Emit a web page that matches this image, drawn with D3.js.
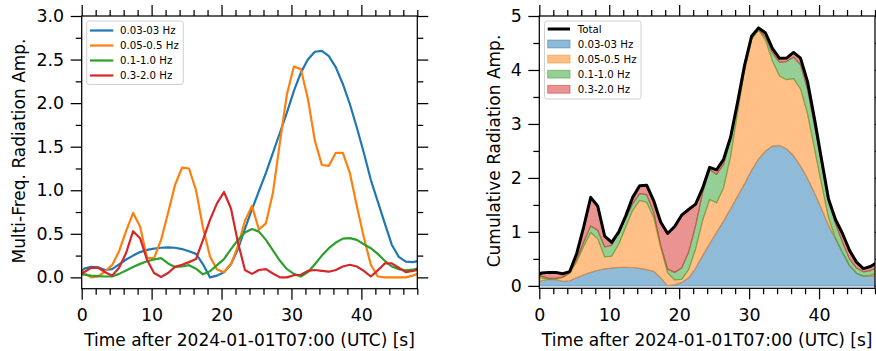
<!DOCTYPE html>
<html><head><meta charset="utf-8">
<script src="https://cdn.jsdelivr.net/npm/d3@7"></script>
<style>
html,body{margin:0;padding:0;background:#fff;}
svg{display:block;}
text{font-family:"DejaVu Sans",sans-serif;fill:#000;}
</style></head>
<body><svg id="chart" width="876" height="351"></svg>
<script>
// Frequency bands and their colours
const bandLabels = ["0.03-03 Hz", "0.05-0.5 Hz", "0.1-1.0 Hz", "0.3-2.0 Hz"];
const bandColors = ["#1f77b4", "#ff7f0e", "#2ca02c", "#d62728"];

// Sample times [s] (one sample per second, offset by 0.35 s)
const sampleTimes = d3.range(50).map(i => i - 0.65);

// Radiation amplitude per band at each sample time
const amp003 = [0.02, 0.10, 0.12, 0.115, 0.085, 0.095, 0.15, 0.205, 0.25, 0.29,
  0.315, 0.33, 0.34, 0.345, 0.34, 0.325, 0.30, 0.27, 0.15, 0.0,
  0.02, 0.06, 0.15, 0.325, 0.56, 0.78, 0.99, 1.20, 1.43, 1.66,
  1.89, 2.14, 2.35, 2.50, 2.59, 2.60, 2.54, 2.41, 2.22, 1.99,
  1.72, 1.43, 1.12, 0.87, 0.62, 0.375, 0.235, 0.18, 0.175, 0.19];
const amp005 = [0.10, 0.05, 0.0, 0.01, 0.07, 0.14, 0.30, 0.53, 0.74, 0.585,
  0.22, 0.22, 0.43, 0.74, 1.06, 1.26, 1.25, 1.0, 0.57, 0.24,
  0.09, 0.06, 0.15, 0.36, 0.65, 0.82, 0.55, 0.62, 0.97, 1.55,
  2.10, 2.42, 2.39, 2.05, 1.57, 1.29, 1.28, 1.43, 1.43, 1.20,
  0.82, 0.46, 0.145, 0.01, 0.0, 0.0, 0.0, 0.0, 0.02, 0.05];
const amp01 = [0.045, 0.03, 0.02, 0.015, 0.01, 0.01, 0.04, 0.08, 0.12, 0.155,
  0.185, 0.205, 0.22, 0.16, 0.12, 0.125, 0.14, 0.10, 0.035, 0.07,
  0.14, 0.21, 0.325, 0.43, 0.515, 0.555, 0.525, 0.43, 0.31, 0.19,
  0.095, 0.04, 0.01, 0.06, 0.15, 0.25, 0.335, 0.40, 0.445, 0.45,
  0.43, 0.38, 0.335, 0.27, 0.19, 0.125, 0.095, 0.08, 0.088, 0.107];
const amp03 = [0.0, 0.06, 0.11, 0.11, 0.06, 0.02, 0.11, 0.28, 0.53, 0.45,
  0.20, 0.05, 0.005, 0.05, 0.12, 0.145, 0.175, 0.21, 0.43, 0.66,
  0.85, 0.98, 0.79, 0.40, 0.085, 0.04, 0.085, 0.095, 0.045, 0.0,
  0.0, 0.025, 0.03, 0.075, 0.085, 0.075, 0.065, 0.085, 0.125, 0.145,
  0.125, 0.075, 0.01, 0.08, 0.16, 0.16, 0.11, 0.06, 0.075, 0.09];

// Axis ticks
const xMajorTicks = [0, 10, 20, 30, 40];
const xMinorTicks = [2, 4, 6, 8, 12, 14, 16, 18, 22, 24, 26, 28, 32, 34, 36, 38, 42, 44, 46, 48];
const yMajorTicksLeft = [0, 0.5, 1.0, 1.5, 2.0, 2.5, 3.0];
const yMinorTicksLeft = [0.25, 0.75, 1.25, 1.75, 2.25, 2.75];
const yMajorTicksRight = [0, 1, 2, 3, 4, 5];
const yMinorTicksRight = [0.5, 1.5, 2.5, 3.5, 4.5];

const series = [amp003, amp005, amp01, amp03];
const rows = sampleTimes.map((t, i) => {
  const r = { t };
  series.forEach((s, j) => r["b" + j] = s[i]);
  return r;
});
const keys = ["b0", "b1", "b2", "b3"];

const svg = d3.select("#chart");
const FONT_TICK = 17.4, FONT_LABEL = 17, FONT_LEG = 10.2;
const MAJ = 11, MIN = 6;

function drawAxes(g, x, y, yMajor, yMinor, yFmt, box) {
  const add = (axis, tr) => {
    const a = g.append("g").attr("transform", tr).call(axis);
    a.select(".domain").remove();
    a.selectAll("line").attr("stroke", "#000").attr("stroke-width", 1.25);
    a.selectAll("text").attr("font-size", FONT_TICK).attr("font-family", "DejaVu Sans").attr("fill", "#000");
    return a;
  };
  const b = `translate(0,${box.bottom})`, t = `translate(0,${box.top})`;
  const l = `translate(${box.left},0)`, r = `translate(${box.right},0)`;
  add(d3.axisBottom(x).tickValues(xMajorTicks).tickSize(MAJ).tickPadding(9).tickFormat(d3.format("d")), b);
  add(d3.axisBottom(x).tickValues(xMinorTicks).tickSize(MIN).tickFormat(""), b);
  add(d3.axisTop(x).tickValues(xMajorTicks).tickSize(MAJ).tickFormat(""), t);
  add(d3.axisTop(x).tickValues(xMinorTicks).tickSize(MIN).tickFormat(""), t);
  add(d3.axisLeft(y).tickValues(yMajor).tickSize(MAJ).tickPadding(6.5).tickFormat(yFmt), l);
  add(d3.axisLeft(y).tickValues(yMinor).tickSize(MIN).tickFormat(""), l);
  add(d3.axisRight(y).tickValues(yMajor).tickSize(MAJ).tickFormat(""), r);
  add(d3.axisRight(y).tickValues(yMinor).tickSize(MIN).tickFormat(""), r);
  g.append("rect").attr("x", box.left).attr("y", box.top)
    .attr("width", box.right - box.left).attr("height", box.bottom - box.top)
    .attr("fill", "none").attr("stroke", "#000").attr("stroke-width", 1.25);
}

function clip(id, box) {
  svg.append("clipPath").attr("id", id).append("rect")
    .attr("x", box.left).attr("y", box.top)
    .attr("width", box.right - box.left).attr("height", box.bottom - box.top);
}

// ---------- Left panel: amplitude per band ----------
const boxL = { left: 81.7, right: 417.3, top: 16, bottom: 288.7 };
const xL = d3.scaleLinear().domain([0, 48]).range([boxL.left, boxL.right]);
const yL = d3.scaleLinear().domain([-0.13, 3.0]).range([boxL.bottom, boxL.top]);
clip("clipL", boxL);
const gL = svg.append("g");
const plotL = gL.append("g").attr("clip-path", "url(#clipL)");
series.forEach((s, j) => {
  const line = d3.line().x((d, i) => xL(sampleTimes[i])).y(d => yL(d));
  plotL.append("path").attr("d", line(s)).attr("fill", "none")
    .attr("stroke", bandColors[j]).attr("stroke-width", 2.2)
    .attr("stroke-linejoin", "round");
});
drawAxes(gL, xL, yL, yMajorTicksLeft, yMinorTicksLeft, d3.format(".1f"), boxL);

// legend
const legL = gL.append("g");
legL.append("rect").attr("x", 86.7).attr("y", 21).attr("width", 96.6).attr("height", 63.5)
  .attr("rx", 2.5).attr("fill", "#fff").attr("fill-opacity", 0.8)
  .attr("stroke", "#d0d0d0").attr("stroke-width", 1);
bandLabels.forEach((lab, j) => {
  const yy = 30.5 + j * 15;
  legL.append("line").attr("x1", 90).attr("x2", 113.3).attr("y1", yy).attr("y2", yy)
    .attr("stroke", bandColors[j]).attr("stroke-width", 2.2);
  legL.append("text").attr("x", 120).attr("y", yy + 3.7).attr("font-size", FONT_LEG).text(lab);
});

// axis labels
gL.append("text").attr("x", xL(24)).attr("y", 345.5).attr("text-anchor", "middle")
  .attr("font-size", FONT_LABEL).text("Time after 2024-01-01T07:00 (UTC) [s]");
gL.append("text").attr("transform", "translate(24.5,151) rotate(-90)").attr("text-anchor", "middle")
  .attr("font-size", FONT_LABEL).text("Multi-Freq. Radiation Amp.");

// ---------- Right panel: cumulative stacked amplitude ----------
const boxR = { left: 539.3, right: 875, top: 16, bottom: 288.3 };
const xR = d3.scaleLinear().domain([0, 48]).range([boxR.left, boxR.right]);
const yR = d3.scaleLinear().domain([-0.045, 5]).range([boxR.bottom, boxR.top]);
clip("clipR", boxR);
const gR = svg.append("g");
const plotR = gR.append("g").attr("clip-path", "url(#clipR)");
const stacked = d3.stack().keys(keys)(rows);
const area = d3.area().x(d => xR(d.data.t)).y0(d => yR(d[0])).y1(d => yR(d[1]));
stacked.forEach((layer, j) => {
  plotR.append("path").attr("d", area(layer))
    .attr("fill", bandColors[j]).attr("fill-opacity", 0.5)
    .attr("stroke", bandColors[j]).attr("stroke-opacity", 0.5).attr("stroke-width", 1.2)
    .attr("stroke-linejoin", "round");
});
const totalLine = d3.line().x(d => xR(d.t)).y(d => yR(keys.reduce((s, k) => s + d[k], 0)));
plotR.append("path").attr("d", totalLine(rows)).attr("fill", "none")
  .attr("stroke", "#000").attr("stroke-width", 3).attr("stroke-linejoin", "round");
drawAxes(gR, xR, yR, yMajorTicksRight, yMinorTicksRight, d3.format("d"), boxR);

const legR = gR.append("g");
legR.append("rect").attr("x", 544.5).attr("y", 21).attr("width", 96.5).attr("height", 78)
  .attr("rx", 2.5).attr("fill", "#fff").attr("fill-opacity", 0.8)
  .attr("stroke", "#d0d0d0").attr("stroke-width", 1);
legR.append("line").attr("x1", 547.7).attr("x2", 570).attr("y1", 29).attr("y2", 29)
  .attr("stroke", "#000").attr("stroke-width", 3);
legR.append("text").attr("x", 577.7).attr("y", 32.7).attr("font-size", FONT_LEG).text("Total");
bandLabels.forEach((lab, j) => {
  const yy = 44 + j * 15.1;
  legR.append("rect").attr("x", 547.7).attr("y", yy - 3.9).attr("width", 22.3).attr("height", 7.8)
    .attr("fill", bandColors[j]).attr("fill-opacity", 0.5)
    .attr("stroke", bandColors[j]).attr("stroke-opacity", 0.5).attr("stroke-width", 1);
  legR.append("text").attr("x", 577.7).attr("y", yy + 3.7).attr("font-size", FONT_LEG).text(lab);
});

gR.append("text").attr("x", xR(24)).attr("y", 345.5).attr("text-anchor", "middle")
  .attr("font-size", FONT_LABEL).text("Time after 2024-01-01T07:00 (UTC) [s]");
gR.append("text").attr("transform", "translate(500,151) rotate(-90)").attr("text-anchor", "middle")
  .attr("font-size", FONT_LABEL).text("Cumulative Radiation Amp.");
</script>
</body></html>
